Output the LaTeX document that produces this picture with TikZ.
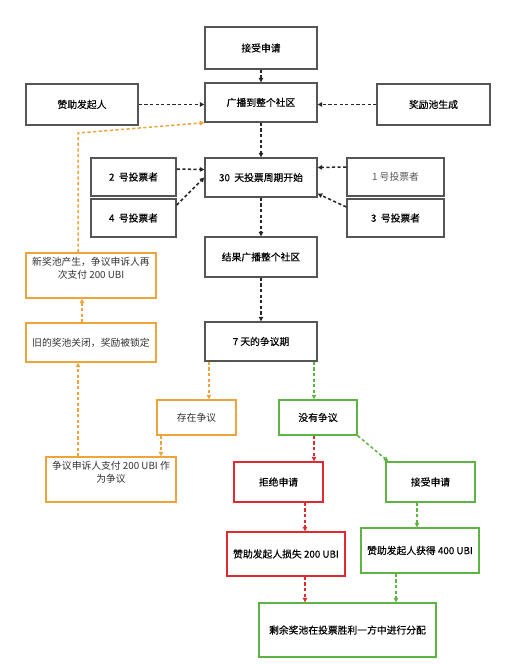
\documentclass[tikz,border=0pt]{standalone}
\usepackage{fontspec}
\setmainfont{Noto Sans CJK SC}
\newfontfamily\cjkheavy{Noto Sans CJK SC}[FakeBold=0.35]
\usetikzlibrary{arrows.meta,calc}
\definecolor{ubiorange}{HTML}{F0A33A}
\definecolor{ubigreen}{HTML}{5DB443}
\definecolor{ubired}{HTML}{E12A30}
\definecolor{ubigray}{HTML}{555555}

\begin{document}
\begin{tikzpicture}[
    x=1pt, y=-1pt,
    every node/.style={font=\fontsize{9.8}{13}\selectfont, align=center, inner sep=2pt},
    stage/.style={draw=ubigray, line width=1.4pt, fill=white, font=\fontsize{9.8}{13}\selectfont\cjkheavy},
    ostage/.style={stage, draw=ubiorange, font=\fontsize{9.8}{13}\selectfont, text=black!80},
    gstage/.style={stage, draw=ubigreen},
    rstage/.style={stage, draw=ubired},
    flow/.style={draw=black!85, line width=1.5pt, dash pattern=on 3.2pt off 2.4pt, -{Triangle[length=4.5pt,width=4.5pt]}},
    oflow/.style={flow, draw=ubiorange},
    gflow/.style={flow, draw=ubigreen},
    rflow/.style={flow, draw=ubired}
]
    \useasboundingbox (0,0) rectangle (507,665);

    % --- Antrag und Verteilung ---
    \node[stage, minimum width=112pt, minimum height=42pt] (accept) at (261,48) {接受申请};
    \node[stage, minimum width=112pt, minimum height=39pt] (broadcast) at (261,102.5) {广播到整个社区};
    \node[stage, minimum width=112pt, minimum height=41pt] (sponsor) at (82,104.5) {赞助发起人};
    \node[stage, minimum width=113pt, minimum height=41pt] (poolgen) at (433.5,104.5) {奖励池生成};

    % --- Abstimmung ---
    \node[stage, minimum width=112pt, minimum height=39pt] (vote30) at (261,177.5) {30\ \ 天投票周期开始};
    \node[stage, minimum width=85pt, minimum height=38pt] (voter2) at (133.5,177) {2\ \ 号投票者};
    \node[stage, minimum width=85pt, minimum height=38pt] (voter4) at (133.5,218) {4\ \ 号投票者};
    \node[stage, minimum width=97pt, minimum height=38pt, font=\fontsize{9.8}{13}\selectfont, text=black!65] (voter1) at (395.5,177) {1 号投票者};
    \node[stage, minimum width=97pt, minimum height=38pt] (voter3) at (395.5,218) {3\ \ 号投票者};
    \node[stage, minimum width=112pt, minimum height=40pt] (result) at (261,257) {结果广播整个社区};
    \node[stage, minimum width=112pt, minimum height=39pt] (dispute7) at (261,341.5) {7 天的争议期};

    % --- Streitfall (orange) ---
    \node[ostage, minimum width=79pt, minimum height=35pt] (hasdisp) at (196.5,417.5) {存在争议};
    \node[ostage, minimum width=130pt, minimum height=45pt] (appeal) at (111,479.5) {争议申诉人支付 200 UBI 作\\为争议\\[3pt]};
    \node[ostage, minimum width=130pt, minimum height=39pt] (oldpool) at (91,342.5) {旧的奖池关闭，奖励被锁定};
    \node[ostage, minimum width=130pt, minimum height=45pt] (newpool) at (91,275.5) {新奖池产生，争议申诉人再\\次支付 200 UBI\\[3pt]};

    % --- kein Streit (gruen/rot) ---
    \node[gstage, minimum width=78pt, minimum height=35pt] (nodisp) at (318,417.5) {没有争议};
    \node[rstage, minimum width=89pt, minimum height=40pt] (reject) at (278.5,482) {拒绝申请};
    \node[gstage, minimum width=89pt, minimum height=40pt] (acceptg) at (430.5,482) {接受申请};
    \node[rstage, minimum width=118pt, minimum height=44pt] (lose) at (286,554) {赞助发起人损失 200 UBI};
    \node[gstage, minimum width=118pt, minimum height=45pt] (gain) at (420,550.5) {赞助发起人获得 400 UBI};
    \node[gstage, minimum width=177pt, minimum height=54pt] (rest) at (347.5,630) {剩余奖池在投票胜利一方中进行分配};

    % --- Verbindungen ---
    \draw[flow] (accept) -- (broadcast);
    \draw[flow] (sponsor.east) -- (sponsor.east -| broadcast.west);
    \draw[flow] (poolgen.west) -- (poolgen.west -| broadcast.east);
    \draw[flow] (broadcast) -- (vote30);
    \draw[flow] ([yshift=8pt]voter2.east) -- ([yshift=8pt]vote30.west);
    \draw[flow] ([yshift=13pt]voter4.east) -- (vote30.west);
    \draw[flow] ([yshift=10pt]voter1.west) -- ([yshift=10pt]vote30.east);
    \draw[flow] ([yshift=11pt]voter3.west) -- ([yshift=4pt]vote30.south east);
    \draw[flow] (vote30) -- (result);
    \draw[flow] (result) -- (dispute7);

    \coordinate (d7o) at ([xshift=-52pt]dispute7.south);
    \coordinate (d7g) at ([xshift=53pt]dispute7.south);
    \draw[oflow] (d7o) -- (d7o |- hasdisp.north);
    \draw[gflow] (d7g) -- (d7g |- nodisp.north);

    % Streitfall
    \coordinate (hdo) at ([xshift=-35.5pt]hasdisp.south);
    \coordinate (apo) at ([xshift=-33pt]appeal.north);
    \coordinate (opo) at ([xshift=-9pt]oldpool.north);
    \coordinate (npo) at ([xshift=-13pt]newpool.north);
    \coordinate (bend) at (78,133);
    \draw[oflow] (hdo) -- (hdo |- appeal.north);
    \draw[oflow] (apo) -- (apo |- oldpool.south);
    \draw[oflow] (opo) -- (opo |- newpool.south);
    \draw[oflow] (npo) -- (bend) -- (broadcast.south west);

    % kein Streit
    \coordinate (ndr) at ([xshift=-4pt]nodisp.south);
    \coordinate (rjr) at ([xshift=26.5pt]reject.south);
    \coordinate (acg) at ([xshift=-13.5pt]acceptg.south);
    \coordinate (gng) at ([xshift=-24pt]gain.south);
    \draw[rflow] (ndr) -- (ndr |- reject.north);
    \draw[gflow] (nodisp.south east) -- ([xshift=3pt]acceptg.north west);
    \draw[rflow] (rjr) -- (rjr |- lose.north);
    \draw[rflow] (rjr |- lose.south) -- (rjr |- rest.north);
    \draw[gflow] (acg) -- (acg |- gain.north);
    \draw[gflow] (gng) -- (gng |- rest.north);
\end{tikzpicture}
\end{document}
